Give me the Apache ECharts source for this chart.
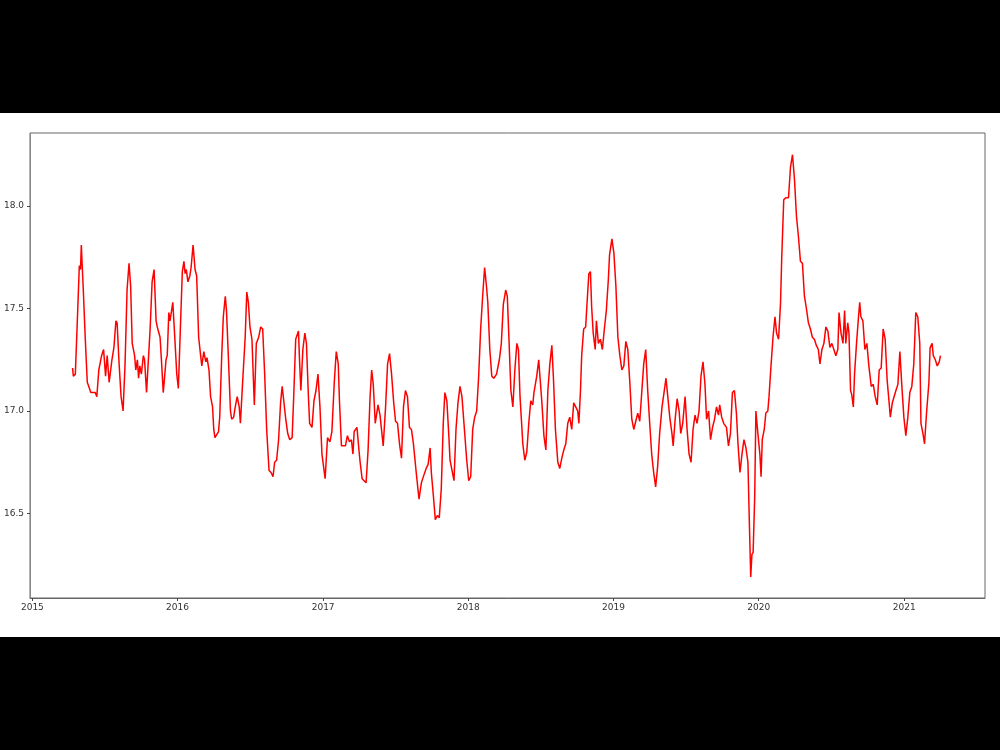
<!DOCTYPE html>
<html>
<head>
<meta charset="utf-8">
<script src="https://cdn.jsdelivr.net/npm/echarts@6/dist/echarts.min.js"></script>
<style>
  html, body { margin: 0; padding: 0; background: #000; }
  #page { position: relative; width: 1000px; height: 750px; background: #000; }
  #chart { position: absolute; left: 0; top: 113px; width: 1000px; height: 524px; background: #fff; }
</style>
</head>
<body>
<div id="page"><div id="chart"></div></div>
<script>
// dates (x) and values (y)
var dates = [
  // 2015
  '2015-04-12', '2015-04-14', '2015-04-19', '2015-04-24', '2015-04-29', '2015-05-02', '2015-05-04', '2015-05-09',
  '2015-05-14', '2015-05-19', '2015-05-24', '2015-05-28', '2015-06-08', '2015-06-12', '2015-06-17', '2015-06-20',
  '2015-06-24', '2015-06-29', '2015-07-04', '2015-07-08', '2015-07-13', '2015-07-20', '2015-07-25', '2015-07-30',
  '2015-08-02', '2015-08-07', '2015-08-12', '2015-08-17', '2015-08-22', '2015-08-27', '2015-09-01', '2015-09-05',
  '2015-09-09', '2015-09-15', '2015-09-18', '2015-09-22', '2015-09-25', '2015-09-28', '2015-10-02', '2015-10-07',
  '2015-10-10', '2015-10-15', '2015-10-19', '2015-10-24', '2015-10-29', '2015-11-01', '2015-11-03', '2015-11-08',
  '2015-11-11', '2015-11-18', '2015-11-22', '2015-11-26', '2015-11-30', '2015-12-03', '2015-12-06', '2015-12-10',
  '2015-12-13', '2015-12-20', '2015-12-25', '2015-12-30',
  // 2016
  '2016-01-03', '2016-01-08', '2016-01-13', '2016-01-17', '2016-01-20', '2016-01-23', '2016-01-27', '2016-02-01',
  '2016-02-04', '2016-02-09', '2016-02-14', '2016-02-18', '2016-02-23', '2016-02-28', '2016-03-02', '2016-03-07',
  '2016-03-12', '2016-03-15', '2016-03-20', '2016-03-24', '2016-03-29', '2016-04-01', '2016-04-04', '2016-04-13',
  '2016-04-16', '2016-04-21', '2016-04-25', '2016-04-30', '2016-05-03', '2016-05-08', '2016-05-13', '2016-05-16',
  '2016-05-21', '2016-05-25', '2016-05-30', '2016-06-04', '2016-06-07', '2016-06-12', '2016-06-19', '2016-06-23',
  '2016-06-27', '2016-07-01', '2016-07-06', '2016-07-12', '2016-07-17', '2016-07-23', '2016-07-28', '2016-08-02',
  '2016-08-07', '2016-08-12', '2016-08-18', '2016-08-23', '2016-08-28', '2016-09-01', '2016-09-06', '2016-09-11',
  '2016-09-16', '2016-09-20', '2016-09-24', '2016-09-29', '2016-10-04', '2016-10-09', '2016-10-15', '2016-10-19',
  '2016-10-24', '2016-10-31', '2016-11-03', '2016-11-06', '2016-11-11', '2016-11-16', '2016-11-20', '2016-11-25',
  '2016-11-28', '2016-12-04', '2016-12-09', '2016-12-14', '2016-12-19', '2016-12-24', '2016-12-29',
  // 2017
  '2017-01-06', '2017-01-12', '2017-01-18', '2017-01-23', '2017-01-29', '2017-02-03', '2017-02-08', '2017-02-11',
  '2017-02-16', '2017-02-26', '2017-03-03', '2017-03-08', '2017-03-13', '2017-03-17', '2017-03-20', '2017-03-27',
  '2017-04-01', '2017-04-04', '2017-04-09', '2017-04-14', '2017-04-19', '2017-04-24', '2017-04-29', '2017-05-03',
  '2017-05-07', '2017-05-12', '2017-05-19', '2017-05-24', '2017-06-01', '2017-06-07', '2017-06-12', '2017-06-17',
  '2017-06-22', '2017-06-27', '2017-07-02', '2017-07-07', '2017-07-12', '2017-07-17', '2017-07-22', '2017-07-27',
  '2017-08-01', '2017-08-06', '2017-08-11', '2017-08-16', '2017-08-23', '2017-08-30', '2017-09-05', '2017-09-10',
  '2017-09-17', '2017-09-22', '2017-09-27', '2017-09-30', '2017-10-05', '2017-10-10', '2017-10-15', '2017-10-20',
  '2017-10-25', '2017-10-30', '2017-11-03', '2017-11-08', '2017-11-13', '2017-11-16', '2017-11-21', '2017-11-26',
  '2017-12-01', '2017-12-06', '2017-12-11', '2017-12-16', '2017-12-21', '2017-12-28',
  // 2018
  '2018-01-02', '2018-01-07', '2018-01-12', '2018-01-17', '2018-01-22', '2018-01-27', '2018-02-01', '2018-02-06',
  '2018-02-11', '2018-02-16', '2018-02-19', '2018-02-24', '2018-03-01', '2018-03-06', '2018-03-13', '2018-03-20',
  '2018-03-25', '2018-03-30', '2018-04-05', '2018-04-09', '2018-04-13', '2018-04-18', '2018-04-23', '2018-04-28',
  '2018-05-03', '2018-05-07', '2018-05-11', '2018-05-18', '2018-05-23', '2018-05-28', '2018-06-02', '2018-06-07',
  '2018-06-12', '2018-06-15', '2018-06-22', '2018-06-27', '2018-06-30', '2018-07-05', '2018-07-10', '2018-07-15',
  '2018-07-20', '2018-07-25', '2018-07-30', '2018-08-03', '2018-08-08', '2018-08-14', '2018-08-19', '2018-08-24',
  '2018-08-29', '2018-09-03', '2018-09-08', '2018-09-13', '2018-09-18', '2018-09-23', '2018-09-28', '2018-10-03',
  '2018-10-06', '2018-10-10', '2018-10-13', '2018-10-18', '2018-10-23', '2018-10-26', '2018-10-31', '2018-11-04',
  '2018-11-07', '2018-11-11', '2018-11-16', '2018-11-19', '2018-11-24', '2018-11-29', '2018-12-04', '2018-12-09',
  '2018-12-14', '2018-12-19', '2018-12-22', '2018-12-28',
  // 2019
  '2019-01-02', '2019-01-07', '2019-01-12', '2019-01-17', '2019-01-22', '2019-01-27', '2019-02-01', '2019-02-06',
  '2019-02-11', '2019-02-16', '2019-02-21', '2019-02-26', '2019-03-03', '2019-03-08', '2019-03-13', '2019-03-18',
  '2019-03-23', '2019-03-28', '2019-04-02', '2019-04-07', '2019-04-12', '2019-04-17', '2019-04-22', '2019-04-27',
  '2019-05-03', '2019-05-08', '2019-05-13', '2019-05-18', '2019-05-23', '2019-05-28', '2019-05-31', '2019-06-05',
  '2019-06-10', '2019-06-15', '2019-06-19', '2019-06-24', '2019-06-30', '2019-07-05', '2019-07-10', '2019-07-15',
  '2019-07-20', '2019-07-25', '2019-07-30', '2019-08-04', '2019-08-09', '2019-08-14', '2019-08-19', '2019-08-23',
  '2019-08-28', '2019-09-02', '2019-09-07', '2019-09-12', '2019-09-17', '2019-09-22', '2019-09-25', '2019-09-30',
  '2019-10-05', '2019-10-12', '2019-10-17', '2019-10-22', '2019-10-27', '2019-11-01', '2019-11-06', '2019-11-10',
  '2019-11-15', '2019-11-20', '2019-11-25', '2019-11-30', '2019-12-05', '2019-12-08', '2019-12-12', '2019-12-15',
  '2019-12-18', '2019-12-22', '2019-12-25', '2019-12-30',
  // 2020
  '2020-01-04', '2020-01-07', '2020-01-10', '2020-01-15', '2020-01-19', '2020-01-24', '2020-01-27', '2020-02-01',
  '2020-02-06', '2020-02-11', '2020-02-15', '2020-02-20', '2020-02-25', '2020-02-28', '2020-03-04', '2020-03-09',
  '2020-03-16', '2020-03-21', '2020-03-26', '2020-03-31', '2020-04-05', '2020-04-10', '2020-04-15', '2020-04-20',
  '2020-04-25', '2020-04-30', '2020-05-05', '2020-05-10', '2020-05-15', '2020-05-20', '2020-05-25', '2020-05-30',
  '2020-06-03', '2020-06-08', '2020-06-13', '2020-06-18', '2020-06-23', '2020-06-28', '2020-07-03', '2020-07-08',
  '2020-07-13', '2020-07-18', '2020-07-21', '2020-07-26', '2020-07-31', '2020-08-04', '2020-08-07', '2020-08-12',
  '2020-08-15', '2020-08-19', '2020-08-22', '2020-08-26', '2020-08-29', '2020-09-03', '2020-09-08', '2020-09-11',
  '2020-09-14', '2020-09-19', '2020-09-24', '2020-09-29', '2020-10-04', '2020-10-10', '2020-10-15', '2020-10-20',
  '2020-10-25', '2020-10-30', '2020-11-04', '2020-11-09', '2020-11-14', '2020-11-19', '2020-11-24', '2020-11-27',
  '2020-12-02', '2020-12-06', '2020-12-11', '2020-12-16', '2020-12-21', '2020-12-26', '2020-12-31',
  // 2021
  '2021-01-05', '2021-01-10', '2021-01-15', '2021-01-20', '2021-01-25', '2021-01-30', '2021-02-04', '2021-02-09',
  '2021-02-12', '2021-02-17', '2021-02-21', '2021-02-26', '2021-03-04', '2021-03-07', '2021-03-12', '2021-03-15',
  '2021-03-20', '2021-03-25', '2021-03-30', '2021-04-02'
];

var values = [
  // 2015
  17.21, 17.17, 17.18, 17.44, 17.71, 17.69, 17.81, 17.59,
  17.35, 17.14, 17.14, 17.09, 17.09, 17.07, 17.20, 17.20,
  17.27, 17.30, 17.17, 17.27, 17.14, 17.25, 17.31, 17.44,
  17.43, 17.23, 17.07, 17.00, 17.23, 17.59, 17.72, 17.61,
  17.33, 17.27, 17.20, 17.25, 17.16, 17.22, 17.18, 17.27,
  17.25, 17.09, 17.09, 17.40, 17.63, 17.63, 17.69, 17.44,
  17.41, 17.36, 17.23, 17.09, 17.18, 17.25, 17.27, 17.48,
  17.44, 17.53, 17.36, 17.18,
  // 2016
  17.11, 17.40, 17.68, 17.73, 17.67, 17.69, 17.63, 17.66,
  17.70, 17.81, 17.69, 17.66, 17.36, 17.27, 17.22, 17.29,
  17.24, 17.26, 17.20, 17.07, 17.02, 16.91, 16.87, 16.90,
  16.97, 17.27, 17.46, 17.56, 17.49, 17.25, 17.00, 16.96,
  16.97, 17.02, 17.07, 17.02, 16.94, 17.12, 17.36, 17.58,
  17.53, 17.41, 17.35, 17.03, 17.33, 17.36, 17.41, 17.40,
  17.18, 16.91, 16.71, 16.70, 16.68, 16.75, 16.76, 16.86,
  17.04, 17.12, 17.05, 16.96, 16.89, 16.86, 16.87, 17.07,
  17.35, 17.39, 17.23, 17.10, 17.30, 17.38, 17.33, 17.07,
  16.94, 16.92, 17.05, 17.10, 17.18, 17.02, 16.79,
  // 2017
  16.67, 16.87, 16.85, 16.90, 17.14, 17.29, 17.23, 17.05,
  16.83, 16.83, 16.88, 16.85, 16.86, 16.79, 16.90, 16.92,
  16.81, 16.75, 16.67, 16.66, 16.65, 16.81, 17.07, 17.20,
  17.13, 16.94, 17.03, 16.98, 16.83, 17.02, 17.23, 17.28,
  17.18, 17.05, 16.95, 16.94, 16.84, 16.77, 17.02, 17.10,
  17.07, 16.92, 16.91, 16.84, 16.70, 16.57, 16.65, 16.68,
  16.72, 16.74, 16.82, 16.70, 16.59, 16.47, 16.49, 16.48,
  16.62, 16.94, 17.09, 17.05, 16.88, 16.76, 16.76, 16.66,
  16.91, 17.04, 17.12, 17.07, 16.94, 16.76,
  // 2018
  16.66, 16.68, 16.91, 16.97, 17.00, 17.17, 17.40, 17.56,
  17.70, 17.60, 17.53, 17.30, 17.17, 17.16, 17.18, 17.25,
  17.33, 17.52, 17.59, 17.56, 17.36, 17.10, 17.02, 17.20,
  17.33, 17.30, 17.07, 16.84, 16.76, 16.80, 16.94, 17.05,
  17.03, 17.09, 17.17, 17.25, 17.17, 17.04, 16.88, 16.81,
  17.10, 17.23, 17.32, 17.16, 16.91, 16.75, 16.72, 16.77,
  16.81, 16.84, 16.94, 16.97, 16.91, 17.04, 17.02, 17.00,
  16.94, 17.10, 17.27, 17.40, 17.41, 17.51, 17.67, 17.68,
  17.51, 17.38, 17.30, 17.44, 17.33, 17.35, 17.30, 17.40,
  17.49, 17.64, 17.76, 17.84,
  // 2019
  17.77, 17.61, 17.36, 17.27, 17.20, 17.22, 17.34, 17.30,
  17.14, 16.96, 16.91, 16.95, 16.99, 16.95, 17.09, 17.23,
  17.30, 17.10, 16.94, 16.79, 16.70, 16.63, 16.73, 16.89,
  17.02, 17.09, 17.16, 17.16, 16.96, 16.89, 16.83, 16.96,
  17.06, 17.00, 16.89, 16.94, 17.07, 16.91, 16.79, 16.75,
  16.91, 16.98, 16.94, 17.00, 17.17, 17.24, 17.13, 16.96,
  17.00, 16.86, 16.92, 16.96, 17.02, 16.98, 17.03, 16.97,
  16.94, 16.92, 16.83, 16.89, 17.09, 17.10, 16.99, 16.84,
  16.70, 16.79, 16.86, 16.82, 16.75, 16.50, 16.19, 16.30,
  16.31, 16.58, 17.00, 16.89,
  // 2020
  16.79, 16.68, 16.86, 16.91, 16.99, 17.00, 17.07, 17.22,
  17.36, 17.46, 17.38, 17.35, 17.53, 17.75, 18.03, 18.04,
  18.04, 18.19, 18.25, 18.13, 17.95, 17.85, 17.73, 17.72,
  17.56, 17.50, 17.43, 17.40, 17.36, 17.35, 17.32, 17.30,
  17.23, 17.30, 17.33, 17.41, 17.39, 17.31, 17.33, 17.30,
  17.27, 17.30, 17.48, 17.38, 17.33, 17.49, 17.33, 17.43,
  17.38, 17.10, 17.08, 17.02, 17.18, 17.33, 17.46, 17.53,
  17.46, 17.44, 17.30, 17.33, 17.22, 17.12, 17.13, 17.07,
  17.03, 17.20, 17.21, 17.40, 17.35, 17.15, 17.04, 16.97,
  17.04, 17.04, 17.10, 17.13, 17.29, 17.12, 16.97,
  // 2021
  16.88, 16.97, 17.09, 17.12, 17.23, 17.48, 17.46, 17.33,
  16.94, 16.89, 16.84, 16.99, 17.14, 17.31, 17.33, 17.27,
  17.25, 17.22, 17.24, 17.27
];

var yearTicks = ['2015-01-01', '2016-01-01', '2017-01-01', '2018-01-01', '2019-01-01', '2020-01-01', '2021-01-01'];
var valueTicks = [16.5, 17.0, 17.5, 18.0];

function toTime(s) {
  return +new Date(s + 'T00:00:00Z');
}

var seriesData = [];
for (var i = 0; i < dates.length; i++) {
  seriesData.push([toTime(dates[i]), values[i]]);
}
var yearTickTimes = yearTicks.map(toTime);

var chart = echarts.init(document.getElementById('chart'));
chart.setOption({
  backgroundColor: '#fff',
  animation: false,
  grid: {
    left: 30,
    right: 15,
    top: 20,
    bottom: 39,
    show: true,
    borderColor: '#666',
    borderWidth: 1,
    backgroundColor: '#fff'
  },
  xAxis: {
    type: 'value',
    min: toTime('2014-12-26'),
    max: toTime('2021-07-23'),
    splitLine: { show: false },
    axisLine: { show: true, lineStyle: { color: '#666' } },
    axisTick: {
      show: true,
      length: 3,
      lineStyle: { color: '#444' },
      customValues: yearTickTimes
    },
    axisLabel: {
      customValues: yearTickTimes,
      formatter: function (v) { return new Date(v).getUTCFullYear(); },
      color: '#333',
      fontSize: 9,
      fontFamily: 'DejaVu Sans',
      margin: 5
    }
  },
  yAxis: {
    type: 'value',
    min: 16.088,
    max: 18.356,
    splitLine: { show: false },
    axisLine: { show: true, lineStyle: { color: '#888' } },
    axisTick: {
      show: true,
      length: 3,
      lineStyle: { color: '#444' },
      customValues: valueTicks
    },
    axisLabel: {
      customValues: valueTicks,
      formatter: function (v) { return v.toFixed(1); },
      color: '#333',
      fontSize: 9,
      fontFamily: 'DejaVu Sans',
      margin: 6
    }
  },
  series: [{
    type: 'line',
    data: seriesData,
    showSymbol: false,
    smooth: false,
    lineStyle: { color: '#ff0000', width: 1.5 }
  }]
});
</script>
</body>
</html>
